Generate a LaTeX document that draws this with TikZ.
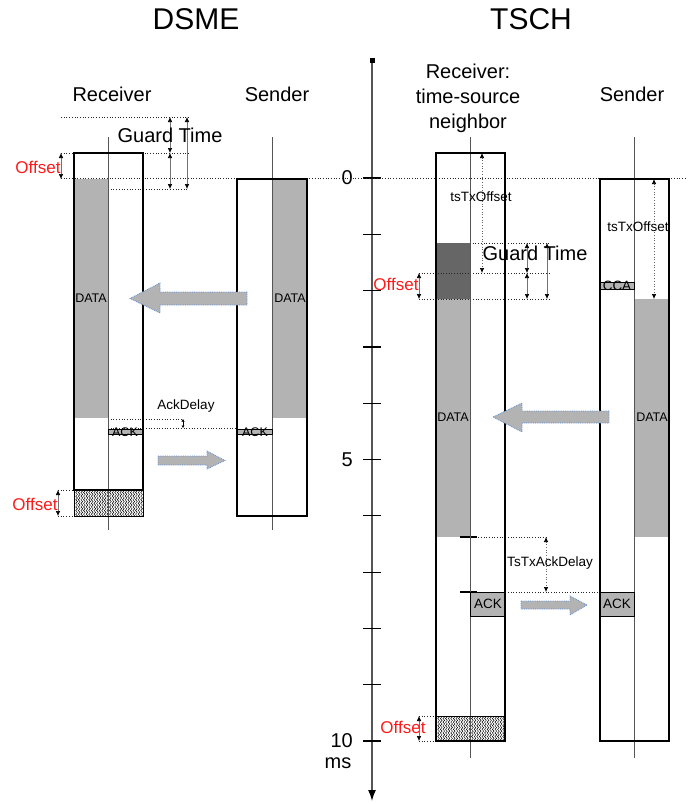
\documentclass[tikz,border=0pt]{standalone}
\usepackage{fontspec}
\setmainfont{Liberation Sans}
\usetikzlibrary{arrows.meta,fit,decorations.pathmorphing}
\definecolor{lgray}{HTML}{B3B3B3}
\definecolor{dgray}{HTML}{666666}
\definecolor{axgray}{HTML}{555555}
\definecolor{arrblue}{HTML}{5B8FD6}
\definecolor{offred}{HTML}{FF1A1A}
\tikzset{
  title/.style={font=\fontsize{30}{34}\selectfont, inner sep=0},
  role/.style={font=\fontsize{20}{25}\selectfont, inner sep=0, align=center},
  gtime/.style={font=\fontsize{20}{24}\selectfont, inner sep=0},
  lbl/.style={font=\fontsize{13.5}{16}\selectfont, inner sep=0},
  lbls/.style={font=\fontsize{12.5}{15}\selectfont, inner sep=0},
  offs/.style={font=\fontsize{17}{20}\selectfont, text=offred, inner sep=0},
  ticklbl/.style={font=\fontsize{20}{24}\selectfont, inner sep=0, anchor=east},
  frame/.style={draw=black, line width=1.2pt, inner sep=0pt},
  lfill/.style={fill=lgray, draw=none, inner sep=0pt},
  dfill/.style={fill=dgray, draw=none, inner sep=0pt},
  smallbox/.style={fill=lgray, draw=black, line width=0.8pt, inner sep=0pt},
  lifeline/.style={draw=axgray, line width=1pt},
  guide/.style={dotted, line width=0.7pt, draw=black!85},
  tipd/.tip={Latex[length=5pt,width=4.5pt,color=black]},
  dim/.style={tipd-tipd, draw=black!55, line width=0.6pt},
  dimdot/.style={tipd-tipd, draw=black!60, line width=0.7pt, dotted},
  bigarrow/.style={fill=lgray, draw=arrblue, densely dotted, line width=0.8pt},
  hatchline/.style={decorate, decoration={snake, amplitude=0.9pt, segment length=3.6pt}, line width=0.45pt},
  tickmark/.style={draw=black, line width=1.2pt},
}
\begin{document}
\begin{tikzpicture}[x=1pt,y=-1pt]
\useasboundingbox (0,0) rectangle (697,804);
% titles
\node[title] (tD) at (196,19) {DSME};
\node[title] (tT) at (531,19) {TSCH};
\node[role] (rD) at (112,94) {Receiver};
\node[role] (sD) at (277,94) {Sender};
\node[role] (rT) at (468,98) {Receiver:\\time-source\\neighbor};
\node[role] (sT) at (632,94) {Sender};

% ---------- fills ----------
\node[lfill, fit={(74,179) (108,418)}] (dRdata) {};
\node[lfill, fit={(273,179) (307,418)}] (dSdata) {};
\node[dfill, fit={(436,243) (470,299)}] (tRguard) {};
\node[lfill, fit={(436,299) (470,537)}] (tRdata) {};
\node[lfill, fit={(634,299) (669,537)}] (tSdata) {};

% hatches
\begin{scope}
\clip (74,490) rectangle (143,516);
\foreach \x in {74,76.6,...,145} \draw[hatchline] (\x,486) -- (\x,520);
\end{scope}
\begin{scope}
\clip (436,716) rectangle (505,741);
\foreach \x in {436,438.6,...,507} \draw[hatchline] (\x,712) -- (\x,745);
\end{scope}

% ---------- time axis ----------
\coordinate (axTop) at (372,58);
\coordinate (axBot) at (372,801);
\draw[draw=axgray, line width=1.5pt, {Square[length=5pt,width=5pt,color=black]}-{Latex[length=11pt,width=8pt,color=black]}] (axTop) -- (axBot);
\foreach \k in {0,...,10} \draw[tickmark] (363,178+56.3*\k) -- (381,178+56.3*\k);
\node[ticklbl] (l0) at (353,178) {0};
\node[ticklbl] (l5) at (353,459.5) {5};
\node[ticklbl] (l10) at (353,741) {10};
\node[font=\fontsize{20}{24}\selectfont, inner sep=0] (lms) at (338,763) {ms};

% global zero line
\coordinate (z0) at (61,178.5);
\coordinate (z1) at (687,178.5);
\draw[guide] (z0) -- (z1);

% ---------- guide lines DSME ----------
\draw[guide] (61,117) -- (188,117);
\draw[guide] (61,153) -- (188,153);
\draw[guide] (108,189) -- (188,189);
\draw[guide] (108,419) -- (183,419);
\draw[guide] (108,428) -- (237,428);
\draw[guide] (58,490) -- (74,490);
\draw[guide] (58,516) -- (74,516);

% ---------- guide lines TSCH ----------
\draw[guide] (470,243) -- (549,243);
\draw[guide] (419,273) -- (549,273);
\draw[guide] (419,299) -- (549,299);
\draw[guide] (470,537) -- (548,537);
\draw[guide] (470,592) -- (600,592);
\draw[guide] (419,716) -- (436,716);
\draw[guide] (419,741) -- (436,741);
\draw[tickmark] (460,537) -- (477,537);
\draw[tickmark] (460,592) -- (477,592);

% ---------- lifelines ----------
\draw[lifeline] (108,137) -- (108,530);
\draw[lifeline] (272,137) -- (272,530);
\draw[lifeline] (470,137) -- (470,758);
\draw[lifeline] (634,137) -- (634,758);

% ---------- small boxes ----------
\node[smallbox, fit={(108,429) (143,434)}] (dRack) {};
\node[smallbox, fit={(237,429) (272,434)}] (dSack) {};
\node[smallbox, fit={(600,282) (634,289)}] (tScca) {};
\node[smallbox, fit={(470,592) (505,616)}] (tRack) {};
\node[smallbox, fit={(600,592) (634,616)}] (tSack) {};

% ---------- frames ----------
\node[frame, fit={(74,153) (143,490)}] (dR) {};
\node[draw=black, line width=0.8pt, inner sep=0pt, fit={(74,490) (143,516)}] (dRoff) {};
\node[frame, fit={(237,179) (307,516)}] (dS) {};
\node[frame, fit={(436,153) (505,741)}] (tR) {};
\draw[black, line width=0.8pt] (436,716) -- (505,716);
\node[frame, fit={(600,179) (669,741)}] (tS) {};

% ---------- dimension arrows DSME ----------
\draw[dim] (170,117) -- (170,153);
\draw[dim] (170,153) -- (170,189);
\draw[dim] (187,117) -- (187,189);
\draw[dim] (61,153) -- (61,179);
\draw[dim] (58,490) -- (58,516);
\draw[black, line width=0.7pt, {Latex[length=2.5pt,width=3.5pt]}-{Latex[length=2.5pt,width=3.5pt]}] (183,419) -- (183,428);

% ---------- dimension arrows TSCH ----------
\draw[dimdot] (482,153) -- (482,273);
\draw[dimdot] (654,179) -- (654,299);
\draw[dim] (527,243) -- (527,273);
\draw[dim] (527,273) -- (527,299);
\draw[dim] (547,243) -- (547,299);
\draw[dim] (419,273) -- (419,299);
\draw[dimdot] (546,537) -- (546,592);
\draw[dim] (419,716) -- (419,741);

% ---------- big arrows ----------
\draw[bigarrow] (247,292) -- (160,292) -- (160,283) -- (130,298.5) -- (160,313) -- (160,305) -- (247,305) -- cycle;
\draw[bigarrow] (158,456) -- (207,456) -- (207,451) -- (225,460.5) -- (207,469) -- (207,465) -- (158,465) -- cycle;
\draw[bigarrow] (609,411) -- (522,411) -- (522,403) -- (493,417) -- (522,432) -- (522,423) -- (609,423) -- cycle;
\draw[bigarrow] (521,601) -- (570,601) -- (570,596) -- (587,605) -- (570,615) -- (570,609) -- (521,609) -- cycle;

% ---------- labels ----------
\node[gtime] (gtD) at (170,135) {Guard Time};
\node[gtime] (gtT) at (535,253) {Guard Time};
\node[offs] (oD1) at (38,167) {Offset};
\node[offs] (oD2) at (35,504) {Offset};
\node[offs] (oT1) at (396,284) {Offset};
\node[offs] (oT2) at (403,727) {Offset};
\node[lbls] (xD1) at (91,298) {DATA};
\node[lbls] (xD2) at (290,298) {DATA};
\node[lbls] (aD1) at (125,432) {ACK};
\node[lbls] (aD2) at (255,432) {ACK};
\node[lbl] (adl) at (186,406) {AckDelay};
\node[lbl] (to1) at (481,197) {tsTxOffset};
\node[lbl] (to2) at (638,227) {tsTxOffset};
\node[lbl] (cca) at (617,285.5) {CCA};
\node[lbls] (xT1) at (453,417) {DATA};
\node[lbls] (xT2) at (652,417) {DATA};
\node[lbl] (tad) at (550,563) {TsTxAckDelay};
\node[lbl] (aT1) at (488,604) {ACK};
\node[lbl] (aT2) at (617,604) {ACK};
\end{tikzpicture}
\end{document}
